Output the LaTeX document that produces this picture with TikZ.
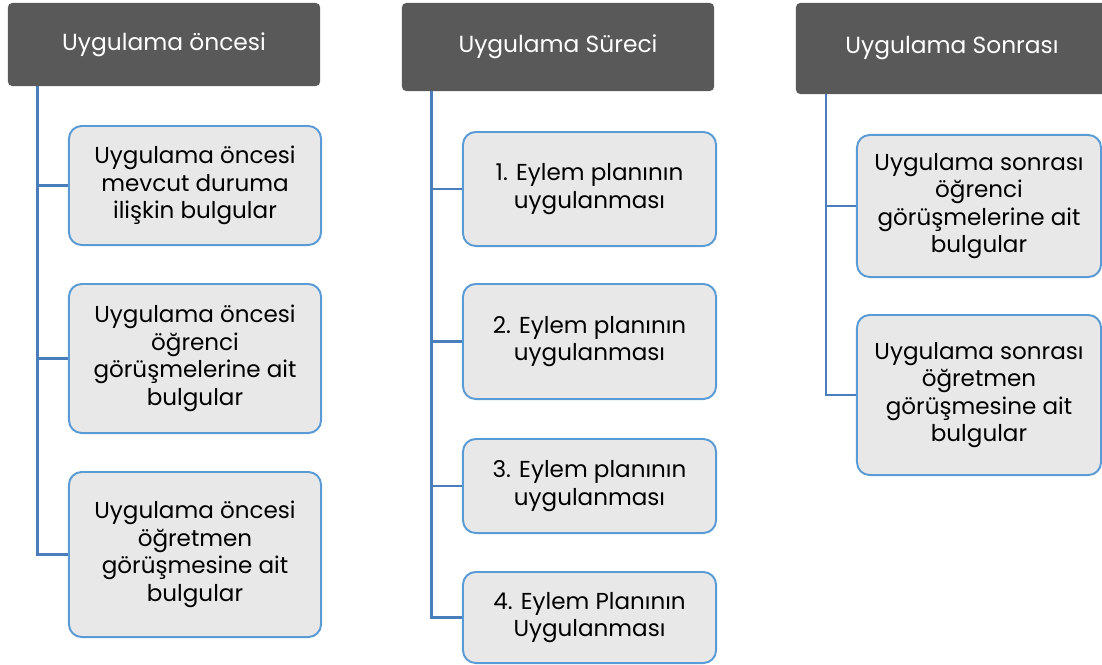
\documentclass[tikz,border=0pt]{standalone}
\usepackage{fontspec}
\setmainfont{Poppins}
\definecolor{HDRgray}{HTML}{595959}
\definecolor{BOXfill}{HTML}{E8E8E8}
\definecolor{BOXblue}{HTML}{5B9BD5}
\definecolor{LINKblue}{HTML}{4A7EBB}
\usetikzlibrary{calc, positioning}

\begin{document}
\begin{tikzpicture}[x=0.025cm, y=-0.025cm,
      hdr/.style={fill=HDRgray, text=white, rounded corners=3pt, inner sep=0pt,
         minimum width=7.8cm, font=\fontsize{16.6}{20}\selectfont},
      item/.style={fill=BOXfill, draw=BOXblue, line width=1.4pt, rounded corners=9pt,
         inner sep=0pt, align=center, font=\fontsize{16.4}{19.6}\selectfont},
      link/.style={draw=LINKblue, line width=1.7pt}]
            \useasboundingbox (0,0) rectangle (1102,664);
            % Headers
            \node[hdr, minimum height=2.075cm] (h1) at (164,44.5) {Uygulama öncesi};
            \node[hdr, minimum height=2.2cm] (h2) at (558,47) {Uygulama Süreci};
            \node[hdr, minimum height=2.275cm] (h3) at (952,48.5) {Uygulama Sonrası};
            % Column 1
            \node[item, minimum width=6.3cm, minimum height=2.975cm] (b11) at (195,185.5)
               {Uygulama öncesi\\mevcut duruma\\ilişkin bulgular};
            \node[item, minimum width=6.3cm, minimum height=3.725cm] (b12) at (195,358.5)
               {Uygulama öncesi\\öğrenci\\görüşmelerine ait\\bulgular};
            \node[item, minimum width=6.3cm, minimum height=4.125cm] (b13) at (195,554.5)
               {Uygulama öncesi\\öğretmen\\görüşmesine ait\\bulgular};
            % Column 2
            \node[item, minimum width=6.325cm, minimum height=2.85cm] (b21) at (589.5,189)
               {1. Eylem planının\\uygulanması};
            \node[item, minimum width=6.325cm, minimum height=2.875cm] (b22) at (589.5,341.5)
               {2. Eylem planının\\uygulanması};
            \node[item, minimum width=6.325cm, minimum height=2.35cm] (b23) at (589.5,486)
               {3. Eylem planının\\uygulanması};
            \node[item, minimum width=6.325cm, minimum height=2.275cm] (b24) at (589.5,617.5)
               {4. Eylem Planının\\Uygulanması};
            % Column 3
            \node[item, minimum width=6.1cm, minimum height=3.55cm] (b31) at (979,206)
               {Uygulama sonrası\\öğrenci\\görüşmelerine ait\\bulgular};
            \node[item, minimum width=6.1cm, minimum height=4.0cm] (b32) at (979,395)
               {Uygulama sonrası\\öğretmen\\görüşmesine ait\\bulgular};
            % Connectors
            \foreach \h/\b in {h1/b11, h1/b12, h1/b13, h2/b21, h2/b22, h2/b23, h2/b24, h3/b31, h3/b32}
               \draw[link] ([xshift=0.75cm]\h.south west) |- (\b.west);
         \end{tikzpicture}
\end{document}
